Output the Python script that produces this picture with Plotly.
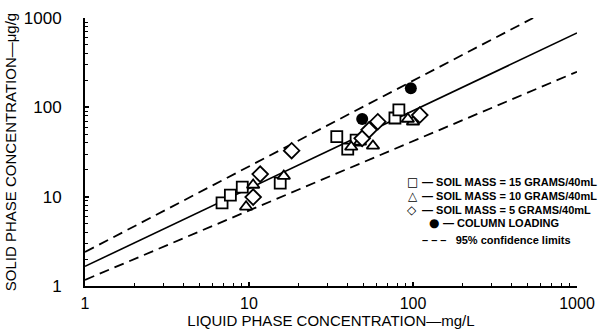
import plotly.graph_objects as go

# Sorption data: liquid phase (mg/L) vs solid phase (ug/g)
sq_x = [6.85, 7.7, 9.1, 15.5, 34.3, 40, 45, 77.6, 82]
sq_y = [8.5, 10.4, 12.8, 14.2, 47, 34, 43, 76, 93.5]

tri_x = [9.6, 10.6, 16.3, 42, 47.5, 57, 100, 93]
tri_y = [7.7, 13.5, 17, 36, 41, 37, 69, 74]

dia_x = [10.6, 11.7, 18.2, 49, 54, 61, 110]
dia_y = [9.9, 17.9, 32.7, 45, 56, 69, 82]

col_x = [49, 97]
col_y = [74, 164]

# Fitted isotherm and 95% confidence limits
fit_x = [1, 1000]
fit_y = [1.66, 680]
upper_x = [1, 540]
upper_y = [2.4, 1000]
lower_x = [1, 1000]
lower_y = [1.17, 250]

tick_vals = [1, 10, 100, 1000]
tick_text = ["1", "10", "100", "1000"]
minor_vals = [m * d for d in (1, 10, 100) for m in range(2, 10)]

FONT = "Liberation Sans, Arial, sans-serif"

# plot area in pixels (used to place the hand-built legend)
W, H = 601, 331
L, R, T, B = 85, 24, 18, 45
PW, PH = W - L - R, H - T - B


def px_to_paper(px, py):
    return (px - L) / PW, (H - B - py) / PH


fig = go.Figure()

fig.add_trace(go.Scatter(x=fit_x, y=fit_y, mode="lines",
                         line=dict(color="black", width=1.6)))
fig.add_trace(go.Scatter(x=upper_x, y=upper_y, mode="lines",
                         line=dict(color="black", width=1.8, dash="10px,6px")))
fig.add_trace(go.Scatter(x=lower_x, y=lower_y, mode="lines",
                         line=dict(color="black", width=1.8, dash="10px,6px")))

open_marker = dict(color="white", line=dict(color="black", width=1.8))
fig.add_trace(go.Scatter(x=sq_x, y=sq_y, mode="markers",
                         marker=dict(symbol="square", size=11, **open_marker)))
fig.add_trace(go.Scatter(x=tri_x, y=tri_y, mode="markers",
                         marker=dict(symbol="triangle-up", size=11, **open_marker)))
fig.add_trace(go.Scatter(x=dia_x, y=dia_y, mode="markers",
                         marker=dict(symbol="diamond", size=12, **open_marker)))
fig.add_trace(go.Scatter(x=col_x, y=col_y, mode="markers",
                         marker=dict(symbol="circle", size=12, color="black")))

axis_common = dict(
    type="log",
    automargin=False,
    showgrid=False,
    zeroline=False,
    showline=True,
    linecolor="black",
    linewidth=2,
    ticks="inside",
    ticklen=4,
    tickwidth=1.5,
    tickcolor="black",
    tickvals=tick_vals,
    ticktext=tick_text,
    minor=dict(ticks="inside", ticklen=3, tickwidth=1.3, tickcolor="black",
               tickvals=minor_vals, showgrid=False),
)

fig.update_xaxes(range=[0, 3], ticklabelstandoff=2,
                 tickfont=dict(family=FONT, size=16, color="black"),
                 title=dict(text="LIQUID PHASE CONCENTRATION\u2014mg/L",
                            font=dict(family=FONT, size=15, color="black"),
                            standoff=2),
                 **axis_common)
fig.update_yaxes(range=[0, 3], ticklabelstandoff=18,
                 tickfont=dict(family=FONT, size=17, color="black"),
                 title=dict(text="SOLID PHASE CONCENTRATION\u2014\u03bcg/g",
                            font=dict(family=FONT, size=15, color="black"),
                            standoff=4),
                 **axis_common)

# Legend built from text annotations
LEG_FONT = dict(family=FONT, size=11, color="black")
legend_rows = [
    ("\u25a1", 412, 182, 12, "\u2014 SOIL MASS = 15 GRAMS/40mL", 421),
    ("\u25b3", 413, 196, 12, "\u2014 SOIL MASS = 10 GRAMS/40mL", 421),
    ("\u25c7", 412, 210, 12, "\u2014 SOIL MASS = 5 GRAMS/40mL", 421),
    ("\u25cf", 434, 223, 12, "\u2014 COLUMN LOADING", 442),
]
for sym, sx, sy, ss, txt, tx in legend_rows:
    ax, ay = px_to_paper(sx, sy)
    fig.add_annotation(x=ax, y=ay, xref="paper", yref="paper",
                       text="<b>" + sym + "</b>", showarrow=False,
                       xanchor="center", yanchor="middle", borderpad=0,
                       font=dict(family="DejaVu Sans", size=ss, color="black"))
    bx, by = px_to_paper(tx, sy)
    fig.add_annotation(x=bx, y=by, xref="paper", yref="paper",
                       text="<b>" + txt + "</b>", showarrow=False,
                       xanchor="left", yanchor="middle", borderpad=0, font=LEG_FONT)
cx, cy = px_to_paper(421, 240)
fig.add_annotation(x=cx, y=cy, xref="paper", yref="paper",
                   text="<b>\u2013 \u2013 \u2013   95% confidence limits</b>",
                   showarrow=False, xanchor="left", yanchor="middle", borderpad=0,
                   font=LEG_FONT)

fig.update_layout(
    width=W, height=H,
    margin=dict(l=L, r=R, t=T, b=B),
    paper_bgcolor="white",
    plot_bgcolor="white",
    showlegend=False,
)

fig.write_html("out.html")
